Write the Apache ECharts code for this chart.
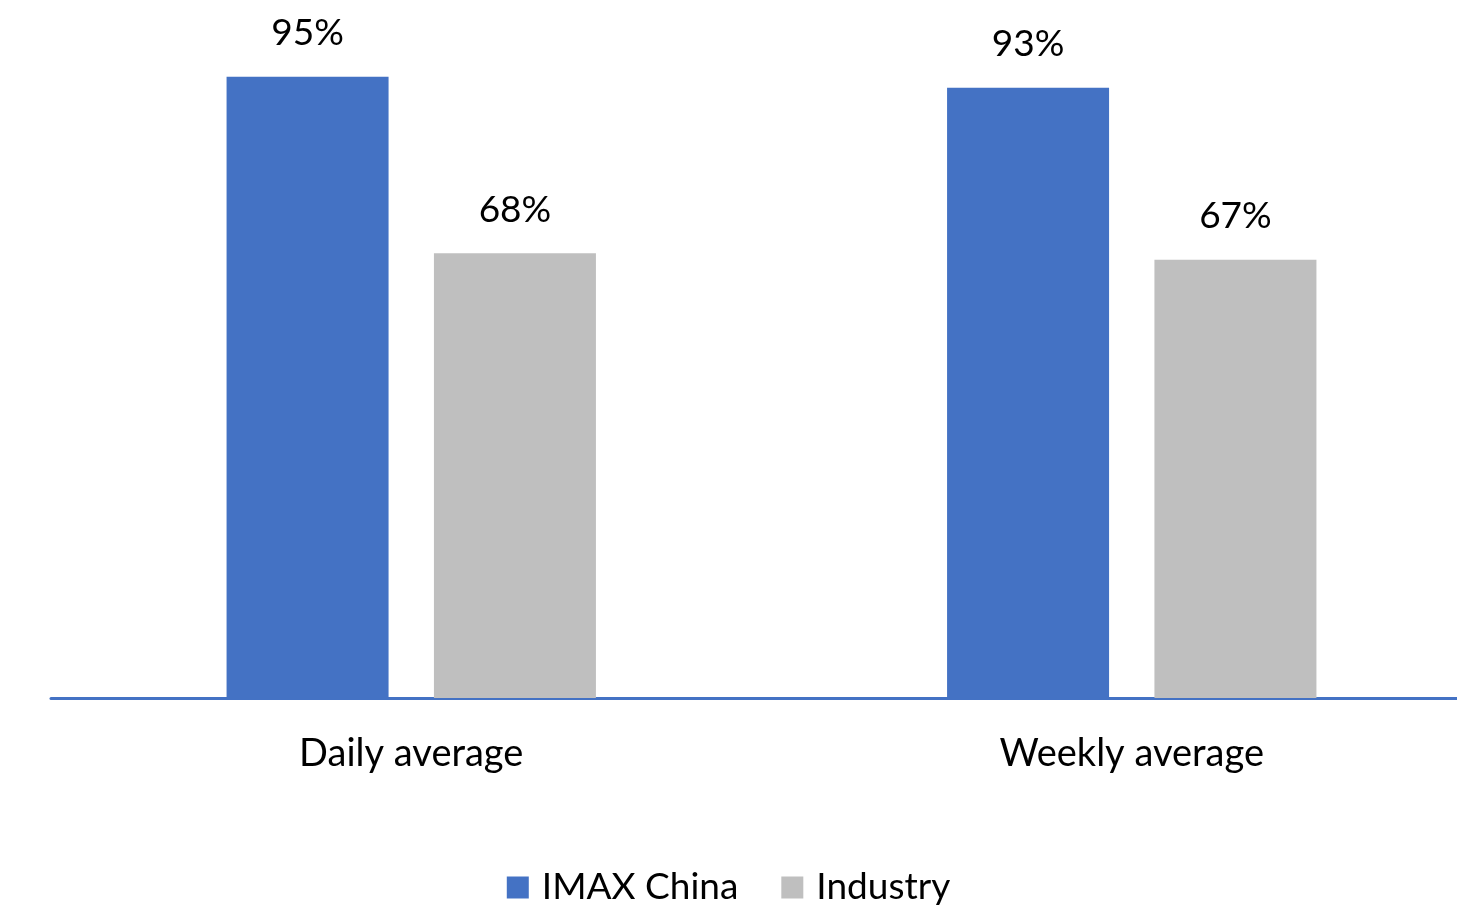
<!DOCTYPE html>
<html>
<head>
<meta charset="utf-8">
<script src="https://cdn.jsdelivr.net/npm/echarts@6/dist/echarts.min.js"></script>
<style>
html,body{margin:0;padding:0;background:#fff;}
#chart{width:1457px;height:908px;}
</style>
</head>
<body>
<div id="chart"></div>
<script>
const categories = ['Daily average', 'Weekly average'];
const seriesNames = ['IMAX China', 'Industry'];
const imaxChina = [95, 93.3];
const industry = [68, 67];

const FONT = 'Lato';
const chart = echarts.init(document.getElementById('chart'), null, {renderer: 'canvas'});
const labelOpt = {
  show: true,
  position: 'top',
  distance: 25,
  fontFamily: FONT,
  fontSize: 37,
  color: '#000',
  formatter: p => Math.round(p.value) + '%'
};
chart.setOption({
  animation: false,
  backgroundColor: '#fff',
  grid: {left: 51, width: 1441, top: 44, height: 654, containLabel: false, outerBoundsMode: 'none'},
  legend: {
    data: seriesNames,
    top: 864,
    left: 'center',
    itemWidth: 22,
    itemHeight: 22,
    itemGap: 43,
    icon: 'rect',
    textStyle: {fontFamily: FONT, fontSize: 37, color: '#000', padding: [0, 0, 0, 8]}
  },
  xAxis: {
    type: 'category',
    data: categories,
    axisLine: {show: true, lineStyle: {color: '#4472C4', width: 3}},
    axisTick: {show: false},
    axisLabel: {fontFamily: FONT, fontSize: 38, color: '#000', margin: 37}
  },
  yAxis: {
    type: 'value',
    min: 0,
    max: 100,
    show: false,
    splitLine: {show: false}
  },
  series: [
    {name: seriesNames[0], type: 'bar', data: imaxChina, barWidth: 162, barGap: '28%',
     itemStyle: {color: '#4472C4'}, label: labelOpt},
    {name: seriesNames[1], type: 'bar', data: industry, barWidth: 162,
     itemStyle: {color: '#BFBFBF'}, label: labelOpt}
  ]
});
</script>
</body>
</html>
